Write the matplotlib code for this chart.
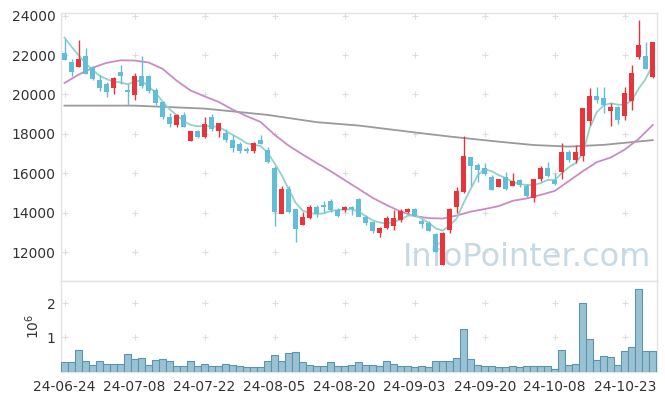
import numpy as np
import matplotlib
matplotlib.use("Agg")
import matplotlib.pyplot as plt

plt.rcParams.update({
    "font.family": ["DejaVu Sans"],
    "font.size": 10,
})

# daily candles, 24-06-24 .. 24-10-29 (85 trading days)
opens = [22090, 21610, 21400, 21950, 21380, 20730, 20530, 20310, 21120, 20200,
         20000, 20930, 20930, 20220, 19600, 18840, 18450, 18950, 17650, 18140,
         17850, 18840, 18140, 18010, 17670, 17480, 17230, 17130, 17670, 17180,
         16260, 13960, 15180, 14170, 13370, 13760, 14290, 14400, 14570, 14130,
         14130, 14270, 14690, 13790, 13520, 12990, 13220, 13320, 13630, 14030,
         14170, 13540, 13460, 12880, 11330, 13150, 14300, 15060, 16790, 16420,
         16250, 15820, 15320, 15820, 15350, 15650, 15350, 14760, 15700, 16260,
         15650, 16080, 17060, 16670, 16890, 18670, 19920, 19820, 19170, 19350,
         18900, 19680, 21920, 21950, 20900]
highs = [22800, 21780, 22760, 22340, 21460, 20990, 20650, 20900, 21490, 20510,
         21070, 21970, 21000, 20300, 19650, 19040, 19000, 19120, 18150, 18170,
         18840, 19000, 18560, 18240, 17920, 17600, 17350, 17600, 17920, 17350,
         16360, 15350, 15350, 14170, 14050, 14400, 14400, 14570, 14690, 14250,
         14350, 14350, 14720, 13860, 13520, 13260, 13820, 14140, 14170, 14250,
         14230, 13680, 13590, 12950, 13020, 14250, 15320, 17870, 16800, 16540,
         16540, 15900, 15710, 16080, 15990, 15700, 15450, 15700, 16390, 16560,
         15990, 17520, 17180, 17430, 19300, 20340, 20390, 20390, 19550, 19400,
         20360, 21490, 23780, 22680, 22680]
lows = [21750, 20950, 21400, 21020, 20730, 20190, 19880, 20020, 20510, 19460,
        19720, 20310, 20050, 19450, 18740, 18330, 18330, 18330, 17650, 17780,
        17800, 18150, 17850, 17600, 17060, 17030, 17030, 17030, 17470, 16520,
        13310, 13960, 13980, 12490, 13370, 13680, 13790, 13980, 14040, 13780,
        14050, 13900, 13810, 13370, 12980, 12780, 13150, 13120, 13540, 14000,
        13820, 13200, 13050, 12020, 11330, 12980, 13970, 15000, 15350, 15570,
        15910, 15130, 15280, 15150, 15350, 15300, 14770, 14520, 15580, 15800,
        15400, 15690, 16560, 16520, 16600, 18450, 19550, 19040, 18400, 18490,
        18700, 19210, 21780, 21290, 20820]
closes = [21780, 21150, 21810, 21070, 20780, 20340, 20140, 20820, 20950, 20150,
          20930, 20430, 20190, 19550, 18870, 18530, 18950, 18360, 18140, 17850,
          18490, 18230, 18530, 17670, 17300, 17130, 17130, 17530, 17470, 16590,
          14020, 15180, 14050, 13190, 13790, 14290, 13930, 14290, 14150, 13860,
          14290, 14200, 13810, 13490, 13100, 13220, 13710, 13710, 14080, 14170,
          13820, 13420, 13080, 12020, 12970, 14170, 15100, 16870, 16380, 16160,
          15960, 15180, 15690, 15230, 15570, 15400, 14840, 15700, 16260, 15880,
          15440, 17060, 16670, 17060, 19300, 19920, 19750, 19460, 19350, 18700,
          20060, 21070, 22510, 21290, 22630]
volumes = [0.285, 0.285, 0.64, 0.32, 0.20, 0.32, 0.235, 0.235, 0.235, 0.52,
           0.38, 0.40, 0.20, 0.35, 0.38, 0.32, 0.176, 0.176, 0.32, 0.147,
           0.235, 0.147, 0.147, 0.235, 0.20, 0.176, 0.118, 0.118, 0.118, 0.294,
           0.49, 0.294, 0.53, 0.56, 0.265, 0.20, 0.176, 0.147, 0.265, 0.176,
           0.176, 0.20, 0.265, 0.20, 0.20, 0.176, 0.294, 0.235, 0.147, 0.147,
           0.118, 0.147, 0.118, 0.294, 0.32, 0.32, 0.41, 1.235, 0.38, 0.20,
           0.176, 0.147, 0.118, 0.118, 0.147, 0.118, 0.176, 0.147, 0.176, 0.147,
           0.088, 0.62, 0.20, 0.235, 2.02, 0.96, 0.35, 0.47, 0.44, 0.20,
           0.59, 0.71, 2.43, 0.59, 0.59]

# moving averages
ma5 = [22880, 22420, 22000, 21580, 21240, 20950, 20780, 20650, 20610, 20510,
       20650, 20700, 20400, 20100, 19630, 19250, 18950, 18650, 18450, 18380,
       18400, 18370, 18360, 18150, 17950, 17750, 17520, 17450, 17380, 17050,
       16500, 15900, 15200, 14500, 14100, 13980, 13930, 13960, 14080, 14130,
       14160, 14170, 14050, 13820, 13600, 13500, 13440, 13520, 13650, 13840,
       13870, 13700, 13480, 13200, 13080, 13350, 13700, 14500, 15200, 15900,
       16200, 16100, 15900, 15750, 15550, 15450, 15400, 15400, 15500, 15660,
       15650, 16000, 16300, 16520, 17000, 18300, 19100, 19450, 19550, 19480,
       19470, 19700, 20300, 20800, 21500]
ma20_idx = [0, 2, 4, 6, 8, 10, 12, 14, 16, 18, 20, 22, 24, 26, 28, 30, 32, 34, 36,
            38, 40, 42, 44, 46, 48, 50, 52, 54, 56, 58, 60, 62, 64, 66, 68, 70,
            72, 74, 76, 78, 80, 82, 84]
ma20 = [20580, 21000, 21350, 21600, 21730, 21720, 21620, 21300, 20700, 20200,
        19900, 19620, 19230, 18900, 18600, 17950, 17400, 16950, 16520, 16100,
        15650, 15200, 14750, 14380, 14050, 13820, 13720, 13700, 13850, 14050,
        14180, 14330, 14600, 14720, 14900, 15100, 15600, 16100, 16560, 16800,
        17200, 17750, 18450]
ma120_idx = [0, 10, 20, 29, 36, 42, 50, 55, 62, 67, 72, 77, 84]
ma120 = [19430, 19430, 19280, 18960, 18590, 18420, 18070, 17860, 17600, 17430,
         17350, 17440, 17680]

tick_idx = [0, 10, 20, 30, 40, 50, 60, 70, 80]
tick_labels = ["24-06-24", "24-07-08", "24-07-22", "24-08-05", "24-08-20",
               "24-09-03", "24-09-20", "24-10-08", "24-10-23"]
price_ticks = [12000, 14000, 16000, 18000, 20000, 22000, 24000]
vol_ticks = [1, 2]

UP = "#e8343a"
DOWN = "#62bdd8"
GRID = "#dedede"
SPINE = "#e3e3e3"

fig = plt.figure(figsize=(6.65, 3.99), dpi=100)
ax = fig.add_axes([61 / 665, 1 - 281 / 399, 596 / 665, 268 / 399])
axv = fig.add_axes([61 / 665, 1 - 371.5 / 399, 596 / 665, 90.5 / 399], sharex=ax)

x = np.arange(len(opens))
o = np.array(opens); c = np.array(closes)
colors = [UP if cc >= oo else DOWN for oo, cc in zip(o, c)]

# grid crosses
gx, gy = np.meshgrid(tick_idx, price_ticks)
ax.scatter(gx.ravel(), gy.ravel(), marker="+", s=18, color=GRID, linewidths=0.8, zorder=1)
gx, gy = np.meshgrid(tick_idx, vol_ticks)
axv.scatter(gx.ravel(), gy.ravel(), marker="+", s=18, color=GRID, linewidths=0.8, zorder=1)

# watermark
ax.text(0.99, 0.03, "InfoPointer.com", transform=ax.transAxes, ha="right", va="bottom",
        fontsize=23, color="#c7d9e5", zorder=2)

ax.plot(ma120_idx, ma120, color="#9a9a9a", lw=1.3, zorder=3)
ax.plot(ma20_idx, ma20, color="#c98bc4", lw=1.3, zorder=3)
ax.plot(x, ma5, color="#92d2c8", lw=1.3, zorder=3)

ax.vlines(x, lows, highs, colors=colors, lw=1.0, zorder=4)
ax.bar(x, np.abs(c - o) + 20, bottom=np.minimum(o, c) - 10, width=0.68,
       color=colors, linewidth=0, zorder=5)

axv.bar(x, volumes, width=1.0, color="#9bc2d3", edgecolor="#5b94ae", linewidth=0.8, zorder=3)

ax.set_xlim(-0.5, 84.6)
ax.set_ylim(10528, 24132)
axv.set_ylim(0, 2.66)

ax.set_yticks(price_ticks)
ax.set_yticklabels([str(v) for v in price_ticks])
axv.set_yticks(vol_ticks)
axv.set_xticks(tick_idx)
axv.set_xticklabels(tick_labels)
plt.setp(ax.get_xticklabels(), visible=False)
axv.set_ylabel(r"$10^6$", fontsize=10, color="#333333", labelpad=3)

for a in (ax, axv):
    a.tick_params(length=0, colors="#333333", labelsize=10, pad=4)
    for s in a.spines.values():
        s.set_color(SPINE)
        s.set_linewidth(1.0)
ax.tick_params(axis="x", length=0)
axv.tick_params(axis="x", pad=6)

fig.savefig("out.png", dpi=100)
